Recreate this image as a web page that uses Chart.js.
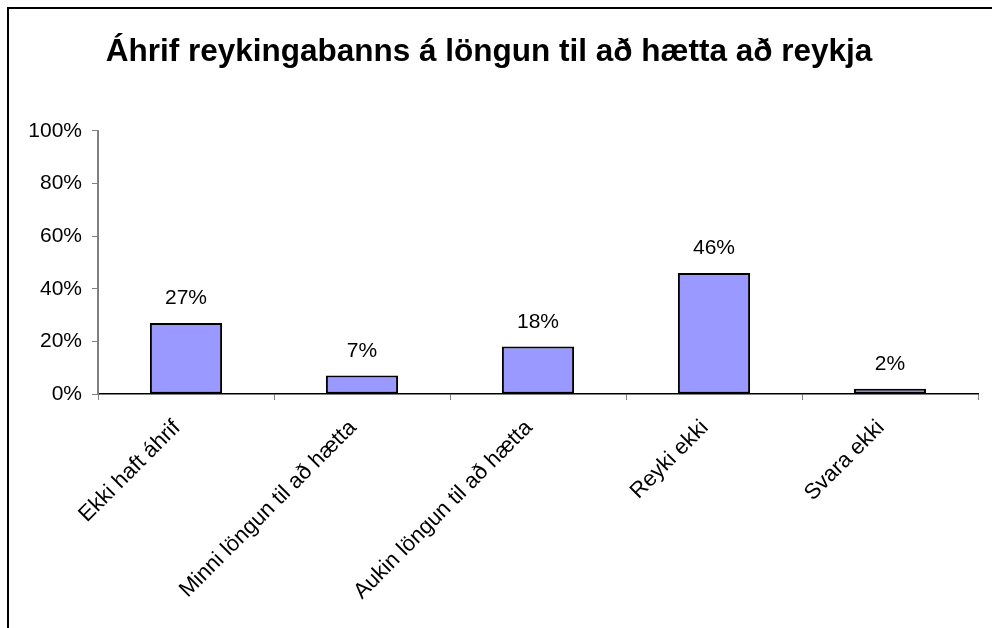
<!DOCTYPE html>
<html>
<head>
<meta charset="utf-8">
<script src="https://cdn.jsdelivr.net/npm/chart.js@4.4.1/dist/chart.umd.min.js"></script>
<style>
  html, body { margin: 0; padding: 0; background: #fff; }
  #wrap { position: relative; width: 992px; height: 628px; }
</style>
</head>
<body>
<div id="wrap"><canvas id="c" width="992" height="628"></canvas></div>
<script>
const titleText = "Áhrif reykingabanns á löngun til að hætta að reykja";
const categories = ["Ekki haft áhrif", "Minni löngun til að hætta", "Aukin löngun til að hætta", "Reyki ekki", "Svara ekki"];
const values = [27, 7, 18, 46, 2];
const yTicks = [0, 20, 40, 60, 80, 100];

const FONT = "'Liberation Sans', Arial, sans-serif";

const framePlugin = {
  id: 'frame',
  beforeDraw(chart) {
    const ctx = chart.ctx;
    ctx.save();
    ctx.fillStyle = '#fff';
    ctx.fillRect(0, 0, chart.width, chart.height);
    ctx.strokeStyle = '#000';
    ctx.lineWidth = 2;
    ctx.beginPath();
    ctx.moveTo(8, chart.height);
    ctx.lineTo(8, 8);
    ctx.lineTo(chart.width, 8);
    ctx.stroke();
    ctx.restore();
  }
};

const labelPlugin = {
  id: 'valLabels',
  afterDatasetsDraw(chart) {
    const ctx = chart.ctx;
    const meta = chart.getDatasetMeta(0);
    ctx.save();
    ctx.font = '21px ' + FONT;
    ctx.fillStyle = '#000';
    ctx.textAlign = 'center';
    ctx.textBaseline = 'alphabetic';
    meta.data.forEach((bar, i) => {
      ctx.fillText(values[i] + '%', bar.x, bar.y - 19);
    });
    ctx.restore();
  }
};

new Chart(document.getElementById('c'), {
  type: 'bar',
  data: {
    labels: categories,
    datasets: [{
      data: values,
      backgroundColor: '#9999FF',
      borderColor: '#000',
      borderWidth: 2,
      borderSkipped: false,
      categoryPercentage: 1.0,
      barPercentage: 0.41
    }]
  },
  options: {
    responsive: false,
    animation: false,
    events: [],
    layout: { padding: { left: 0, right: 14, top: 0, bottom: 0 } },
    plugins: {
      legend: { display: false },
      tooltip: { enabled: false },
      title: {
        display: true,
        text: titleText,
        color: '#000',
        font: { family: FONT, size: 31.5, weight: 'bold', lineHeight: 1.2 },
        padding: { top: 33, bottom: 60 }
      }
    },
    scales: {
      x: {
        grid: { display: true, drawOnChartArea: false, drawTicks: true, tickLength: 6, color: '#808080', offset: true },
        border: { display: true, color: '#000', width: 1.5 },
        ticks: {
          color: '#000',
          font: { family: FONT, size: 22 },
          maxRotation: 45, minRotation: 45,
          padding: 15,
          labelOffset: -9,
          autoSkip: false
        },
        afterFit(scale) { scale.height = 234; }
      },
      y: {
        min: 0, max: 100,
        afterBuildTicks(scale) { scale.ticks = yTicks.map(v => ({ value: v })); },
        grid: { display: true, drawOnChartArea: false, drawTicks: true, tickLength: 6, color: '#808080' },
        border: { display: true, color: '#808080', width: 2 },
        ticks: {
          color: '#000',
          font: { family: FONT, size: 21 },
          padding: 10,
          callback: v => v + '%'
        },
        afterFit(scale) { scale.width = 98; }
      }
    }
  },
  plugins: [framePlugin, labelPlugin]
});
</script>
</body>
</html>
